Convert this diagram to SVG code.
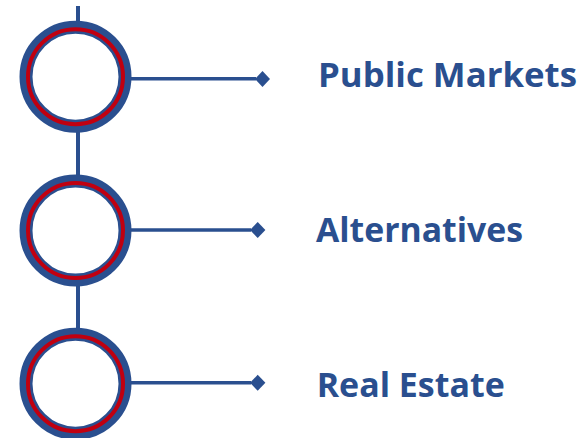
<svg xmlns="http://www.w3.org/2000/svg" width="587" height="438" viewBox="0 0 587 438">
  <defs>
    <style>
      .spine { stroke: #2a4f8f; stroke-width: 4; fill: none; }
      .leader { stroke: #2a4f8f; stroke-width: 3.6; fill: none; }
      .tip { fill: #2a4f8f; }
      .ring-outer { fill: #ffffff; stroke: #2a4f8f; stroke-width: 13; }
      .ring-inner { fill: none; stroke: #c00010; stroke-width: 4; }
      .label { font-family: "Open Sans", "Liberation Sans", sans-serif; font-weight: 700; font-size: 33.5px; fill: #2a4f8f; }
    </style>
  </defs>

  <!-- vertical spine joining the stages -->
  <g id="connectors">
    <line class="spine" x1="78" y1="6" x2="78" y2="24"/>
    <line class="spine" x1="78" y1="129" x2="78" y2="178"/>
    <line class="spine" x1="78" y1="283" x2="78" y2="331"/>
    <line class="leader" x1="131" y1="78.8" x2="256" y2="78.8"/>
    <line class="leader" x1="131" y1="230" x2="251" y2="230"/>
    <line class="leader" x1="131" y1="382.8" x2="251" y2="382.8"/>
    <polygon class="tip" points="255,79 262.5,71 270,79 262.5,87"/>
    <polygon class="tip" points="250,230 257.7,222 265.4,230 257.7,238"/>
    <polygon class="tip" points="250,382.8 257.7,374.8 265.4,382.8 257.7,390.8"/>
  </g>

  <g id="node-public-markets">
    <circle class="ring-outer" cx="75.5" cy="76.7" r="49.5"/>
    <circle class="ring-inner" cx="75.5" cy="76.7" r="47.5"/>
    <text class="label" x="318" y="86.7" textLength="259" lengthAdjust="spacingAndGlyphs">Public Markets</text>
  </g>

  <g id="node-alternatives">
    <circle class="ring-outer" cx="75.5" cy="230.5" r="49.5"/>
    <circle class="ring-inner" cx="75.5" cy="230.5" r="47.5"/>
    <text class="label" x="316" y="241.7" textLength="207" lengthAdjust="spacingAndGlyphs">Alternatives</text>
  </g>

  <g id="node-real-estate">
    <circle class="ring-outer" cx="75.5" cy="383.7" r="49.5"/>
    <circle class="ring-inner" cx="75.5" cy="383.7" r="47.5"/>
    <text class="label" x="316.7" y="396.7" textLength="188" lengthAdjust="spacingAndGlyphs">Real Estate</text>
  </g>
</svg>
